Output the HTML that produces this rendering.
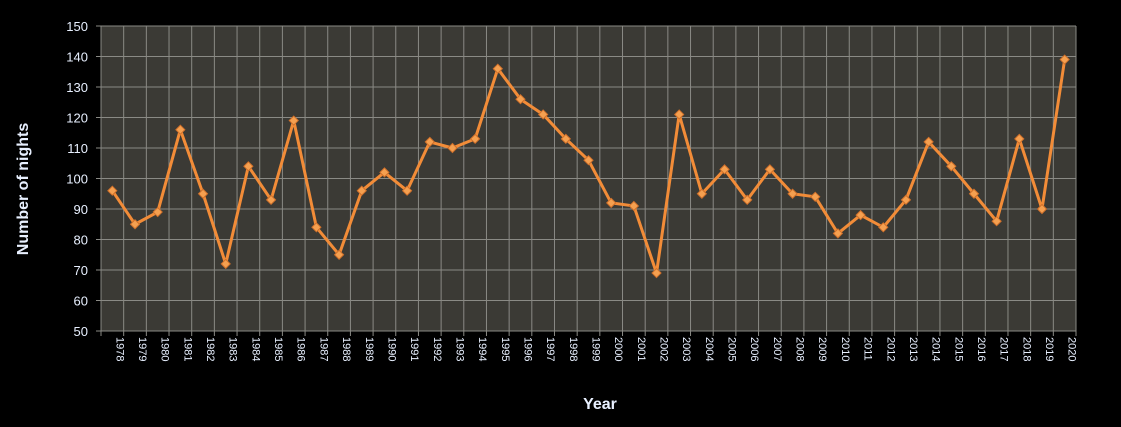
<!DOCTYPE html>
<html><head><meta charset="utf-8"><style>
html,body{margin:0;padding:0;background:#000;width:1121px;height:427px;overflow:hidden}
svg text{font-family:"Liberation Sans",sans-serif;fill:#e8f0ff}
</style></head><body>
<svg id="chart" width="1121" height="427" xmlns="http://www.w3.org/2000/svg">
<rect x="0" y="0" width="1121" height="427" fill="#000"/>
<g id="grid"></g><g id="axes"></g><g id="series"></g>
<text x="600" y="409" text-anchor="middle" font-size="16" font-weight="bold" fill="#fff">Year</text>
<text transform="translate(28,189) rotate(-90)" text-anchor="middle" font-size="16" font-weight="bold" fill="#fff">Number of nights</text>
</svg>
<script>
const years = [1978,1979,1980,1981,1982,1983,1984,1985,1986,1987,1988,1989,1990,1991,1992,1993,1994,1995,1996,1997,1998,1999,2000,2001,2002,2003,2004,2005,2006,2007,2008,2009,2010,2011,2012,2013,2014,2015,2016,2017,2018,2019,2020];
const nights = [96,85,89,116,95,72,104,93,119,84,75,96,102,96,112,110,113,136,126,121,113,106,92,91,69,121,95,103,93,103,95,94,82,88,84,93,112,104,95,86,113,90,139];
const yTicks = [50,60,70,80,90,100,110,120,130,140,150];
const NS='http://www.w3.org/2000/svg';
const L=101,R=1076,T=26,B=331,yMin=50,yMax=150;
const bw=(R-L)/years.length;
const xPos=i=>L+bw*(i+0.5);
const yPos=v=>B-(v-yMin)/(yMax-yMin)*(B-T);
function mk(tag,attrs,parent){const e=document.createElementNS(NS,tag);for(const k in attrs)e.setAttribute(k,attrs[k]);parent.appendChild(e);return e;}
const grid=document.getElementById('grid'),axes=document.getElementById('axes'),series=document.getElementById('series');
const bg=mk('rect',{x:L,y:T,width:R-L,height:B-T,fill:'#3b3a35'},grid);


yTicks.forEach(v=>{
 const y=yPos(v);
 const ln=mk('line',{x1:L-5,x2:R,y1:y,y2:y,stroke:'#8a8a85','stroke-width':1},grid);
 
 
 const t=mk('text',{x:88,y:y+5,'text-anchor':'end','font-size':13},axes);
 t.textContent=v;
 
 
});
for(let i=0;i<=years.length;i++){
 const x=L+bw*i;
 const ln=mk('line',{x1:x,x2:x,y1:T,y2:B+5,stroke:'#8a8a85','stroke-width':1},grid);
 
 
}
years.forEach((yr,i)=>{
 const x=xPos(i);
 const t=mk('text',{transform:`translate(${x+4},337) rotate(90)`,'font-size':11},axes);
 t.textContent=yr;
 
 
});
const pts=nights.map((v,i)=>xPos(i)+','+yPos(v)).join(' ');
const line=mk('polyline',{points:pts,fill:'none',stroke:'#f28c38','stroke-width':3,'stroke-linejoin':'round'},series);


nights.forEach((v,i)=>{
 const x=xPos(i),y=yPos(v);
 const m=mk('polygon',{points:`${x},${y-4.5} ${x+4.5},${y} ${x},${y+4.5} ${x-4.5},${y}`,fill:'#f5a050',stroke:'#d0702a','stroke-width':1},series);
 
 
});
</script>
</body></html>
